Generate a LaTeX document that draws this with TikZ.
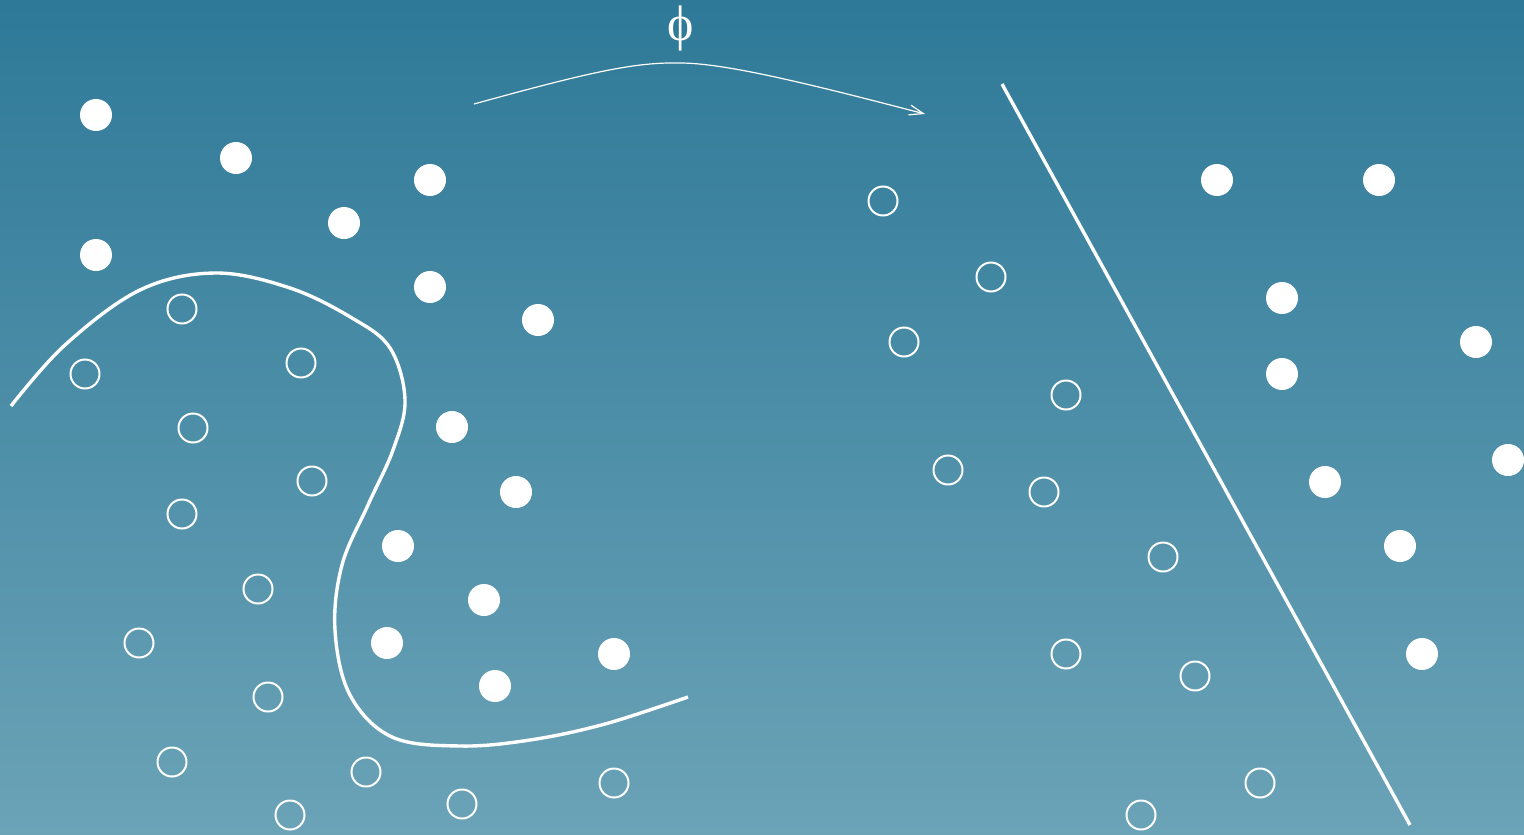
\documentclass[tikz,border=0pt]{standalone}
\usepackage{fontspec}
\newfontfamily\phifont{Liberation Serif}
\usetikzlibrary{arrows.meta}
\definecolor{topc}{RGB}{46,121,152}
\definecolor{botc}{RGB}{107,163,183}
\tikzset{
  posdot/.style={circle,fill=white,draw=none,minimum size=32pt,inner sep=0pt},
  negdot/.style={circle,draw=white,line width=2pt,minimum size=29pt,inner sep=0pt},
  boundary/.style={draw=white,line width=3.4pt},
  maparrow/.style={draw=white,line width=1.2pt,-{Straight Barb[length=14pt,width=10pt]}}
}
\begin{document}
\begin{tikzpicture}[x=1pt,y=-1pt]
\shade[top color=topc,bottom color=botc] (0,0) rectangle (1524,835);
\useasboundingbox (0,0) rectangle (1524,835);
% left positives
\foreach \x/\y [count=\i] in {96/115,236/158,430/180,344/223,96/255,430/287,538/320,452/427,516/492,398/546,484/600,387/643,495/686,614/654}
  \node[posdot] (lp\i) at (\x,\y) {};
% left negatives
\foreach \x/\y [count=\i] in {182/309,85/374,301/363,193/428,312/481,182/514,258/589,139/643,268/697,172/762,366/772,290/815,462/804,614/783}
  \node[negdot] (ln\i) at (\x,\y) {};
% right positives
\foreach \x/\y [count=\i] in {1217/180,1379/180,1282/298,1476/342,1282/374,1508/460,1325/482,1400/546,1422/654}
  \node[posdot] (rp\i) at (\x,\y) {};
% right negatives
\foreach \x/\y [count=\i] in {883/201,991/277,904/342,1066/395,948/470,1044/492,1163/557,1066/654,1195/676,1260/783,1141/815}
  \node[negdot] (rn\i) at (\x,\y) {};
% curved boundary
\draw[boundary] plot[smooth,tension=0.6] coordinates {(11,406) (65,345) (140,290) (215,273) (290,288) (352,318) (390,348) (405,400) (393,450) (368,505) (342,565) (335,630) (350,695) (392,737) (460,746) (530,740) (605,724) (688,697)};
% linear boundary
\coordinate (la) at (1002,84);
\coordinate (lb) at (1410,825);
\draw[boundary] (la) -- (lb);
% mapping arrow
\coordinate (as) at (474,104);
\coordinate (ae) at (925,114);
\draw[maparrow] (as) .. controls (590,72) and (635,62) .. (680,63) .. controls (725,63) and (810,84) .. (ae);
\node[text=white,font=\phifont\fontsize{50}{50}\selectfont,inner sep=0pt] (phi) at (681,28) {ϕ};
\end{tikzpicture}
\end{document}
